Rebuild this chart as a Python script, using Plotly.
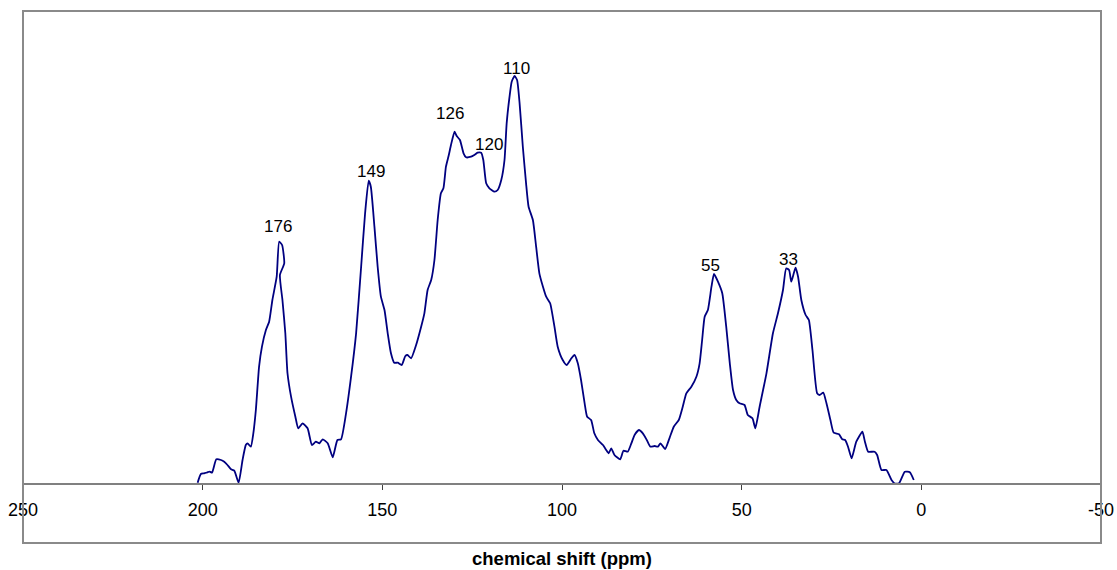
import plotly.graph_objects as go

# chemical shift (ppm) and intensity (arbitrary units)
shift_ppm = [
    201.4, 200.5, 199.6, 198.7, 198.0, 197.4, 196.2, 194.9, 194.0, 193.1,
    192.1, 191.2, 190.0, 188.9, 188.0, 187.5, 186.6, 185.9, 185.2, 184.3,
    183.5, 182.4, 181.5, 180.6, 179.4, 178.7, 177.9, 177.3, 178.5, 177.8,
    177.0, 176.4, 175.4, 174.2, 173.4, 172.2, 170.8, 169.6, 168.5, 167.5,
    166.6, 165.2, 163.8, 162.5, 161.5, 160.1, 158.7, 157.3, 155.9, 154.8,
    153.8, 153.2, 152.2, 151.3, 150.4, 149.4, 148.5, 147.6, 146.7, 145.7,
    144.6, 143.6, 143.0, 142.0, 140.6, 139.2, 138.3, 137.4, 136.4, 135.5,
    134.6, 133.7, 133.0, 132.3, 131.5, 130.9, 129.9, 129.3, 128.4, 127.4,
    126.7, 125.3, 124.4, 123.5, 122.5, 121.9, 121.1, 120.2, 118.8, 117.9,
    116.9, 116.0, 115.4, 114.6, 114.0, 113.2, 112.5, 111.8, 110.9, 110.0,
    109.3, 108.1, 107.2, 106.3, 105.3, 104.4, 103.3, 102.1, 101.2, 99.8,
    98.7, 97.4, 96.5, 95.6, 94.7, 93.7, 93.0, 91.9, 91.0, 90.0,
    88.6, 87.7, 87.0, 86.3, 85.4, 83.8, 82.9, 81.7, 80.7, 79.8,
    78.6, 77.5, 76.4, 75.4, 74.2, 73.3, 72.6, 71.3, 70.1, 68.9,
    67.5, 66.4, 65.4, 64.0, 62.6, 61.7, 61.0, 60.3, 59.4, 58.4,
    57.7, 56.6, 55.4, 54.3, 53.3, 52.4, 51.5, 50.6, 49.2, 48.3,
    47.0, 46.2, 45.0, 43.1, 41.3, 39.9, 38.5, 37.6, 36.8, 36.2,
    35.5, 35.0, 34.3, 33.4, 32.2, 31.3, 30.3, 29.0, 28.3, 27.3,
    26.4, 25.3, 24.4, 22.9, 22.0, 21.2, 20.4, 19.4, 18.1, 16.4,
    15.7, 14.8, 13.0, 12.3, 11.1, 9.7, 8.3, 7.4, 6.2, 4.6,
    3.2, 2.1,
]
intensity = [
    0.8, 9.5, 10.2, 11.2, 11.8, 10.8, 24.2, 23.5, 21.8, 18.5,
    14.2, 12.8, 0.8, 23.5, 38.5, 40.2, 36.8, 50.2, 73.5, 116.8,
    136.8, 153.5, 161.8, 183.5, 206.8, 241.8, 238.5, 220.2, 208.5, 183.5,
    150.5, 110.5, 86.8, 66.8, 55.2, 60.2, 55.2, 38.5, 41.8, 40.2,
    44.2, 40.2, 26.2, 43.5, 44.2, 70.2, 106.8, 150.2, 216.8, 270.2,
    302.8, 296.8, 256.8, 216.8, 186.8, 173.5, 150.2, 130.2, 120.8, 120.8,
    118.5, 127.5, 128.5, 125.2, 138.5, 156.8, 170.2, 193.5, 203.5, 223.5,
    263.5, 290.2, 295.2, 316.8, 328.5, 338.5, 351.8, 347.5, 343.5, 330.2,
    326.2, 326.8, 328.5, 330.8, 330.8, 323.5, 300.2, 295.2, 291.8, 293.5,
    303.5, 323.5, 360.2, 386.8, 401.8, 407.5, 403.5, 380.2, 336.8, 300.2,
    276.8, 263.5, 236.8, 210.2, 196.8, 186.8, 180.2, 156.8, 136.8, 123.5,
    118.5, 125.2, 128.5, 120.2, 103.5, 80.2, 66.8, 63.5, 50.2, 43.5,
    38.5, 33.5, 30.2, 35.2, 28.5, 24.2, 32.8, 31.8, 40.2, 48.5,
    53.5, 50.2, 43.5, 36.8, 37.5, 36.8, 40.2, 34.5, 45.2, 56.8,
    63.5, 76.8, 90.2, 96.8, 106.8, 120.2, 143.5, 166.8, 173.5, 196.8,
    209.5, 201.8, 190.2, 156.8, 120.2, 93.5, 83.5, 80.2, 78.5, 68.5,
    65.2, 55.2, 76.8, 110.2, 150.2, 170.2, 193.5, 215.2, 213.5, 201.8,
    210.2, 215.8, 206.8, 183.5, 168.5, 163.5, 133.5, 90.2, 88.5, 90.8,
    80.2, 63.5, 50.8, 49.2, 44.2, 43.5, 36.8, 25.2, 41.8, 51.8,
    41.8, 31.8, 31.8, 28.5, 13.5, 13.5, 3.5, 0.0, 0.2, 11.8,
    11.2, 3.5,
]

# peak labels: text, label position (ppm, intensity)
peak_labels = ["176", "149", "126", "120", "110", "55", "33"]
label_ppm = [179.0, 153.1, 131.1, 120.3, 112.6, 58.6, 36.9]
label_int = [257.5, 312.5, 370.5, 339.0, 415.2, 218.0, 224.0]

tick_vals = [250, 200, 150, 100, 50, 0, -50]
tick_text = ["250", "200", "150", "100", "50", "0", "-50"]

x_title = "chemical shift (ppm)"

FONT = "Arial, 'Liberation Sans', sans-serif"

fig = go.Figure()
fig.add_trace(go.Scatter(
    x=shift_ppm, y=intensity, mode="lines",
    line=dict(color="#000080", width=1.8, shape="spline", smoothing=0.5),
    hoverinfo="skip", showlegend=False,
))

for t, xp, yp in zip(peak_labels, label_ppm, label_int):
    fig.add_annotation(x=xp, y=yp, text=t, showarrow=False,
                       font=dict(family=FONT, size=17, color="black"),
                       xanchor="center", yanchor="middle")

fig.add_annotation(x=0.5, y=-0.030, xref="paper", yref="paper",
                   text="<b>" + x_title + "</b>", showarrow=False,
                   font=dict(family=FONT, size=18.5, color="black"),
                   xanchor="center", yanchor="middle")

# frame around plot area
fig.add_shape(type="rect", xref="paper", yref="paper", x0=0, y0=0, x1=1, y1=1,
              line=dict(color="#8a8a8a", width=2), layer="above")

fig.update_layout(
    width=1117, height=570,
    margin=dict(l=23, r=16, t=11, b=27, autoexpand=False),
    paper_bgcolor="white", plot_bgcolor="white",
    font=dict(family=FONT, color="black"),
    xaxis=dict(
        range=[250, -50], tickvals=tick_vals, ticktext=tick_text,
        showgrid=False, zeroline=False, automargin=False,
        showline=True, linecolor="#808080", linewidth=2,
        ticks="outside", ticklen=5, tickwidth=1, tickcolor="#404040",
        tickfont=dict(family=FONT, size=18, color="black"),
        anchor="free", position=59.5 / 532,
        ticklabelstandoff=5,
    ),
    yaxis=dict(range=[-59.5, 472.5], visible=False, showgrid=False,
               zeroline=False, fixedrange=True, automargin=False),
)

fig.write_html("out.html")
